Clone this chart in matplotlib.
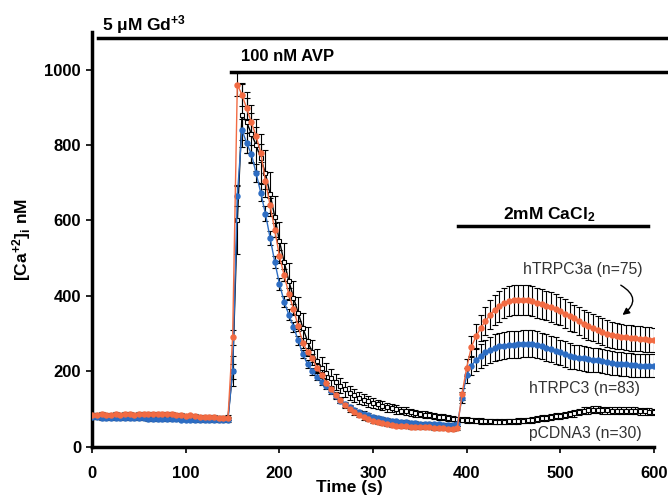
import numpy as np
import matplotlib
matplotlib.use("Agg")
from matplotlib import pyplot as plt

plt.rcParams['font.family'] = ['Liberation Sans', 'DejaVu Sans']
plt.rcParams['mathtext.default'] = 'regular'

# time points (s), one every 5 s
t = np.arange(0, 601, 5)

# hTRPC3a (red)
trpc3a = [85, 84, 86, 85, 84, 86, 85, 87, 86, 85,
          86, 87, 88, 87, 88, 86, 87, 88, 85, 84,
          82, 83, 81, 80, 79, 78, 78, 77, 76, 75,
          290, 960, 933, 897, 860, 824, 780, 705, 640, 575,
          505, 455, 405, 365, 320, 275, 252, 235, 210, 190,
          170, 152, 137, 123, 110, 100, 91, 84, 78, 73,
          69, 65, 62, 60, 58, 56, 55, 54, 53, 53,
          52, 51, 51, 50, 50, 49, 48, 47, 50, 140,
          210, 265, 293, 315, 333, 350, 363, 372, 380, 386,
          390, 390, 389, 388, 386, 382, 378, 374, 370, 365,
          360, 353, 346, 340, 333, 326, 320, 315, 310, 305,
          300, 297, 294, 292, 290, 288, 287, 286, 285, 284,
          283]
trpc3a_err = [5] * 30 + [
          20, 30, 30, 28, 26, 25, 24, 22, 20, 18,
          17, 16, 15, 14, 13, 12, 11, 10, 10, 9,
          9, 8, 8, 8, 7, 7, 7, 6, 6, 6,
          6, 6, 5, 5, 5, 5, 5, 5, 5, 5,
          5, 5, 5, 5, 5, 5, 5, 5, 5, 15,
          22, 28, 32, 35, 37, 38, 39, 40, 40, 40,
          40, 40, 40, 40, 40, 40, 40, 39, 39, 39,
          38, 38, 38, 37, 37, 37, 36, 36, 36, 35,
          35, 35, 35, 34, 34, 34, 34, 33, 33, 33,
          33]

# hTRPC3 (blue)
trpc3 = [78, 78, 77, 77, 77, 76, 76, 76, 75, 75,
         75, 75, 74, 74, 74, 73, 73, 73, 73, 72,
         72, 72, 71, 71, 71, 70, 70, 70, 70, 71,
         200, 665, 840, 805, 776, 726, 674, 618, 554, 490,
         432, 385, 350, 318, 282, 245, 219, 200, 186, 172,
         160, 148, 135, 122, 112, 104, 97, 92, 88, 83,
         79, 76, 73, 70, 69, 67, 66, 65, 63, 62,
         61, 60, 60, 59, 59, 58, 58, 58, 60, 130,
         190, 215, 230, 240, 250, 257, 262, 266, 268, 270,
         270, 272, 273, 273, 273, 270, 267, 263, 259, 255,
         250, 245, 241, 238, 236, 234, 232, 231, 229, 227,
         224, 222, 220, 219, 218, 217, 216, 215, 215, 215,
         215]
trpc3_err = [5] * 30 + [
         20, 28, 28, 26, 25, 24, 22, 20, 18, 17,
         16, 15, 14, 13, 12, 11, 10, 10, 9, 9,
         8, 8, 8, 7, 7, 7, 6, 6, 6, 6,
         6, 5, 5, 5, 5, 5, 5, 5, 5, 5,
         5, 5, 5, 5, 5, 5, 5, 5, 5, 14,
         20, 26, 30, 32, 34, 35, 36, 36, 36, 36,
         36, 36, 36, 36, 36, 36, 35, 35, 35, 35,
         34, 34, 34, 33, 33, 33, 33, 32, 32, 32,
         32, 32, 31, 31, 31, 31, 30, 30, 30, 30,
         30]

# pCDNA3 (black)
pcdna3 = [82, 82, 81, 81, 81, 80, 80, 80, 80, 79,
          79, 79, 78, 78, 78, 78, 77, 77, 77, 77,
          77, 76, 76, 76, 76, 76, 75, 75, 76, 77,
          200, 600, 880, 860, 830, 800, 765, 725, 670, 610,
          545, 490, 440, 395, 355, 315, 280, 250, 228, 210,
          195, 183, 172, 162, 152, 143, 136, 130, 125, 120,
          116, 112, 109, 105, 102, 99, 96, 94, 91, 89,
          87, 85, 84, 82, 80, 78, 76, 74, 73, 72,
          71, 70, 69, 68, 67, 67, 66, 66, 66, 67,
          67, 68, 69, 70, 71, 73, 75, 77, 79, 81,
          82, 84, 86, 89, 92, 95, 97, 98, 98, 97,
          97, 96, 96, 95, 95, 95, 95, 94, 94, 93,
          92]
pcdna3_err = [8, 8, 7, 7, 6, 6, 6, 6, 6, 6] + [6] * 20 + [
          40, 90, 85, 80, 75, 70, 65, 62, 58, 55,
          52, 50, 48, 45, 42, 40, 37, 34, 31, 28,
          26, 24, 22, 20, 19, 18, 17, 16, 15, 14,
          13, 13, 12, 12, 11, 11, 10, 10, 10, 9,
          9, 9, 8, 8, 8, 8, 8, 7, 7, 7,
          7, 7, 7, 7, 7, 7, 7, 7, 7, 7,
          7, 7, 7, 7, 7, 8, 8, 8, 8, 8,
          8, 8, 8, 9, 9, 9, 9, 9, 9, 9,
          9, 9, 9, 9, 9, 9, 9, 9, 9, 9,
          9]

red = '#F26B43'
blue = '#2D6DC3'

fig = plt.figure(figsize=(6.68, 4.98), dpi=100)
ax = fig.add_axes([0.138, 0.103, 0.841, 0.833])

ebkw = dict(fmt='none', ecolor='black', elinewidth=0.8, capsize=2.5, capthick=0.8)
ax.errorbar(t, trpc3a, yerr=trpc3a_err, zorder=2, **ebkw)
ax.errorbar(t, trpc3, yerr=trpc3_err, zorder=2, **ebkw)
ax.errorbar(t, pcdna3, yerr=pcdna3_err, zorder=2, **ebkw)

ax.plot(t, pcdna3, color='black', lw=1, marker='s', ms=3, mfc='white',
        mec='black', mew=0.8, zorder=3)
ax.plot(t, trpc3, color=blue, lw=1, marker='o', ms=3.6, mec=blue, zorder=4)
ax.plot(t, trpc3a, color=red, lw=1, marker='o', ms=3.6, mec=red, zorder=5)

ax.set_xlim(0, 600)
ax.set_ylim(0, 1100)
ax.set_xticks(range(0, 601, 100))
ax.set_yticks(range(0, 1001, 200))
for s in ['top', 'right']:
    ax.spines[s].set_visible(False)
for s in ['left', 'bottom']:
    ax.spines[s].set_linewidth(2.5)
ax.tick_params(direction='out', length=4, width=1.2, labelsize=12, pad=4)
ax.tick_params(axis='x', pad=10)
for lab in ax.get_xticklabels() + ax.get_yticklabels():
    lab.set_fontweight('bold')

ax.set_xlabel('Time (s)', fontsize=12.5, fontweight='bold')
ax.xaxis.set_label_coords(0.458, -0.08)
ax.set_ylabel('[Ca$^{+2}$]$_i$ nM', fontsize=12.5, fontweight='bold')
ax.yaxis.set_label_coords(-0.105, 0.5)

# treatment bars
ax.plot([6, 615], [1083, 1083], color='black', lw=2.5, clip_on=False)
ax.plot([148, 615], [993, 993], color='black', lw=2.5, clip_on=False)
ax.plot([391, 594], [585, 585], color='black', lw=2.5, clip_on=False)
ax.text(11, 1120, '5 \u03bcM Gd$^{+3}$', fontsize=12.5, fontweight='bold',
        ha='left', va='center', clip_on=False)
ax.text(209, 1034, '100 nM AVP', fontsize=12, fontweight='bold',
        ha='center', va='center')
ax.text(488, 616, '2mM CaCl$_2$', fontsize=12.5, fontweight='bold',
        ha='center', va='center')

# series labels
ax.text(524, 469, 'hTRPC3a (n=75)', fontsize=11.3, color='#333333',
        ha='center', va='center')
ax.text(526, 155, 'hTRPC3 (n=83)', fontsize=11.3, color='#333333',
        ha='center', va='center')
ax.text(527, 36, 'pCDNA3 (n=30)', fontsize=11.3, color='#333333',
        ha='center', va='center')
ax.annotate('', xy=(564, 345), xytext=(562, 432),
            arrowprops=dict(arrowstyle='-|>', color='black', lw=1,
                            connectionstyle='arc3,rad=-0.8',
                            mutation_scale=10))

fig.savefig('out.png', dpi=100)
